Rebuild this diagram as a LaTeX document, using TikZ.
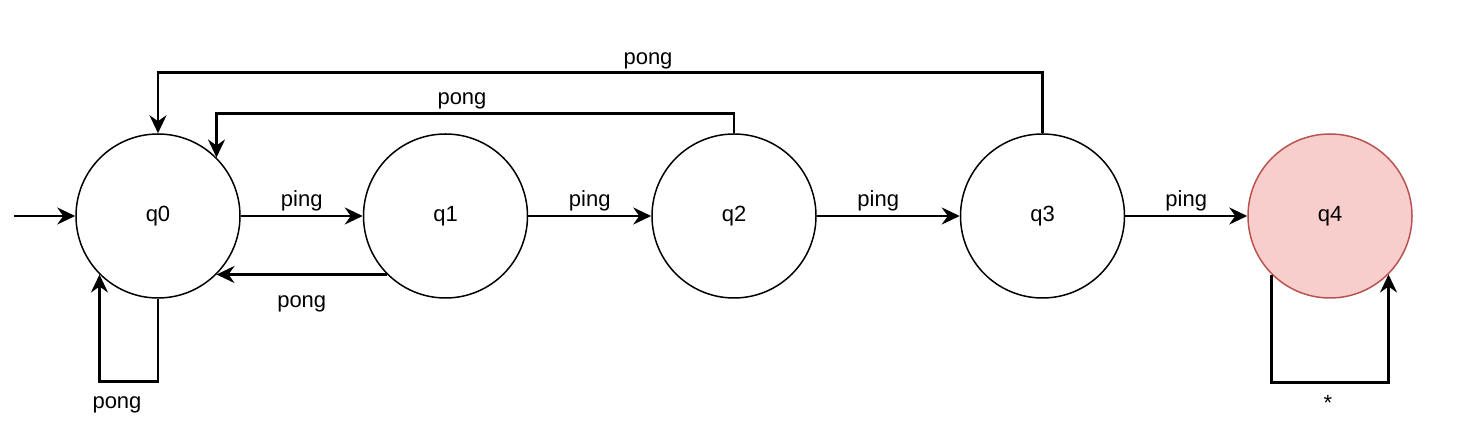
\documentclass[tikz,border=0pt]{standalone}
\usepackage{fontspec}
\setmainfont{Liberation Sans}
\usetikzlibrary{arrows.meta,positioning}
\definecolor{acceptfill}{HTML}{F8CECC}
\definecolor{acceptdraw}{HTML}{B85450}

\begin{document}
\begin{tikzpicture}[x=0.5pt,y=-0.5pt,
	state/.style={circle,draw,line width=0.75pt,minimum size=82pt,inner sep=0pt,font=\fontsize{11}{13}\selectfont},
	accept/.style={state,draw=acceptdraw,fill=acceptfill},
	trans/.style={line width=1.3pt,-{Stealth[length=9pt,width=8.5pt,inset=3pt]}},
	tlabel/.style={inner sep=0pt,font=\fontsize{11}{13}\selectfont}]
			\useasboundingbox (0,0) rectangle (1457,442);
			\node[state] (q0) at (158,216) {q0};
			\node[state,right=61pt of q0] (q1) {q1};
			\node[state,right=61.5pt of q1] (q2) {q2};
			\node[state,right=71.5pt of q2] (q3) {q3};
			\node[accept,right=61pt of q3] (q4) {q4};
			\coordinate (init) at (14,216);
			\draw[trans] (init) -- (q0);
			\draw[trans] (q0) -- (q1) node[tlabel,midway,above=1.8pt] (l01) {ping};
			\draw[trans] (q1) -- (q2) node[tlabel,midway,above=1.8pt] (l12) {ping};
			\draw[trans] (q2) -- (q3) node[tlabel,pos=0.43,above=1.8pt] (l23) {ping};
			\draw[trans] (q3) -- (q4) node[tlabel,midway,above=1.8pt] (l34) {ping};
			\draw[trans] (q1.225) -- (q0.-45) node[tlabel,midway,below=10pt] (l10) {pong};
			\draw[trans] (q2.north) -- ++(0,-20) -| (q0.45);
			\node[tlabel,anchor=base] (l20) at (462,105) {pong};
			\draw[trans] (q3.north) -- ++(0,-61) -| (q0.north);
			\node[tlabel,anchor=base] (l30) at (648,65) {pong};
			\draw[trans] (q0.south) -- ++(0,83) -| (q0.225);
			\node[tlabel,anchor=base] (l00) at (117,409) {pong};
			\draw[trans] (q4.225) -- ++(0,108) -| (q4.-45);
			\node[tlabel,anchor=base] (l44) at (1328,411) {*};
\end{tikzpicture}
\end{document}
